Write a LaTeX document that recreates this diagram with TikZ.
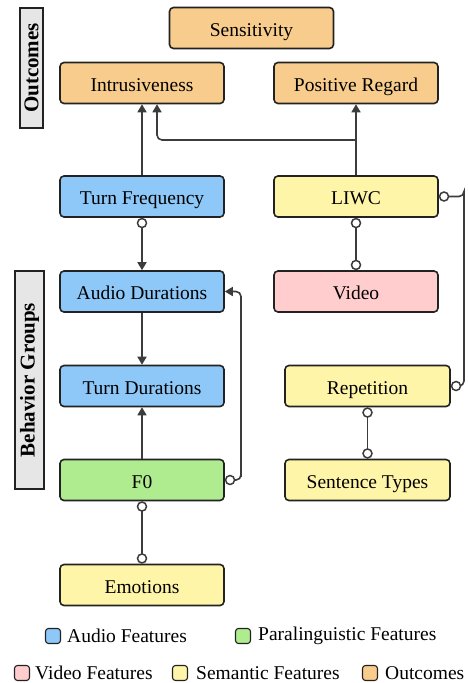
\documentclass[tikz,border=0pt]{standalone}
\usepackage{fontspec}
\setmainfont{Liberation Serif}
\usetikzlibrary{arrows.meta}

\definecolor{outc}{HTML}{F8CC8C}
\definecolor{audio}{HTML}{8DC8F8}
\definecolor{sema}{HTML}{FFF5A8}
\definecolor{vid}{HTML}{FFCDCD}
\definecolor{para}{HTML}{AFEC8F}
\definecolor{grp}{HTML}{E6E6E6}
\definecolor{edge}{HTML}{222222}
\definecolor{wire}{HTML}{3C3C3C}

\tikzset{
  box/.style={draw=edge, line width=1.6pt, rounded corners=4pt,
    minimum width=164pt, minimum height=41pt, inner sep=0pt,
    text height=16.5pt, text depth=0.5pt,
    font=\fontsize{19.5}{23}\selectfont},
  groupbox/.style={draw=edge, line width=1.4pt, fill=grp, inner sep=0pt,
    font=\bfseries\fontsize{21}{25}\selectfont},
  wirel/.style={draw=wire, line width=1.6pt, rounded corners=5pt},
  oc/.tip={Circle[open,length=10.5pt,width=10.5pt,fill=white,line width=1.5pt]},
  tri/.tip={Triangle[length=8pt,width=9pt]},
  arr/.style={wirel, -tri},
  swatch/.style={draw=edge, line width=1.1pt, rounded corners=3pt,
    minimum width=15pt, minimum height=15pt, inner sep=0pt},
  legtext/.style={anchor=west, inner sep=0pt, font=\fontsize{19.5}{23}\selectfont}
}

\begin{document}
\begin{tikzpicture}[x=1pt,y=-1pt]
\useasboundingbox (0,0) rectangle (468,683);

% group labels
\node[groupbox, minimum width=23pt, minimum height=120pt] (gout) at (31.5,68)
  {\rotatebox{90}{Outcomes}};
\node[groupbox, minimum width=29pt, minimum height=218pt] (gbeh) at (29.5,380)
  {\rotatebox{90}{Behavior Groups}};

% outcomes
\node[box, fill=outc] (sens) at (251.5,28) {Sensitivity};
\node[box, fill=outc] (intr) at (142,83) {Intrusiveness};
\node[box, fill=outc] (preg) at (356,83) {Positive Regard};

% behaviour features
\node[box, fill=audio] (tf) at (142,196.5) {Turn Frequency};
\node[box, fill=sema]  (liwc) at (356,196.5) {LIWC};
\node[box, fill=audio] (ad) at (142,291.5) {Audio Durations};
\node[box, fill=vid]   (vid) at (356,291.5) {Video};
\node[box, fill=audio] (td) at (142,386) {Turn Durations};
\node[box, fill=sema, minimum width=165pt] (rep) at (367.5,386) {Repetition};
\node[box, fill=para]  (f0) at (142,480) {F0};
\node[box, fill=sema, minimum width=165pt] (st) at (367.5,480) {Sentence Types};
\node[box, fill=sema]  (emo) at (142,585) {Emotions};

% helper points for the routed connectors
\coordinate (lsplit) at (liwc.north |- 0,140);
\coordinate (lright) at (464,0);
\coordinate (fright) at (241,0);

% directed links
\draw[arr] (tf.north) -- (intr.south);
\draw[arr] (liwc.north) -- (preg.south);
\draw[arr] (lsplit) -| ([xshift=15pt]intr.south);
\draw[wirel, oc-tri] (tf.south) -- (ad.north);
\draw[arr] (ad.south) -- (td.north);
\draw[arr] (f0.north) -- (td.south);
\draw[wirel, oc-tri] (f0.east) -| (fright |- f0.east) |- (ad.east);

% undirected associations
\draw[wirel, oc-oc] (liwc.south) -- (vid.north);
\draw[wirel, oc-oc] (liwc.east) -| (lright |- liwc.east) |- (rep.east);
\draw[wirel, oc-oc] (rep.south) -- (st.north);
\draw[wirel, oc-oc] (f0.south) -- (emo.north);

% legend
\node[swatch, fill=audio] (sw1) at (53,636) {};
\node[legtext] (lt1) at (67,636) {Audio Features};
\node[swatch, fill=para] (sw2) at (243,636) {};
\node[legtext] (lt2) at (258,636) {Paralinguistic Features};
\node[swatch, fill=vid] (sw3) at (22,673) {};
\node[legtext] (lt3) at (35,673) {Video Features};
\node[swatch, fill=sema] (sw4) at (180,673) {};
\node[legtext] (lt4) at (196,673) {Semantic Features};
\node[swatch, fill=outc] (sw5) at (370,673) {};
\node[legtext] (lt5) at (385,673) {Outcomes};
\end{tikzpicture}
\end{document}
